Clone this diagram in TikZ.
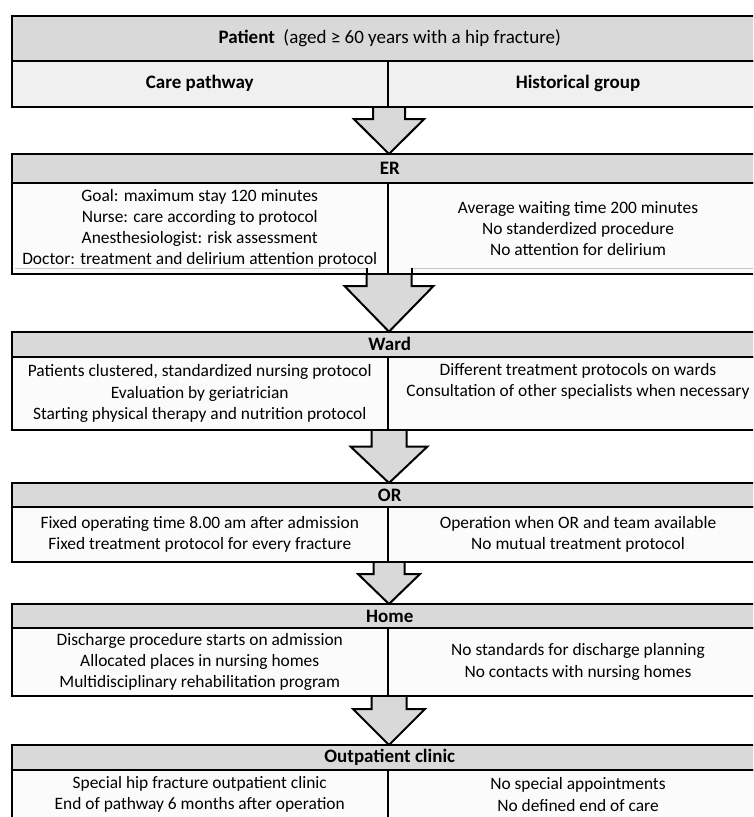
\documentclass[tikz,border=0pt]{standalone}
\usepackage{fontspec}
\setmainfont{Carlito}
\usetikzlibrary{calc}
\definecolor{hdrgray}{HTML}{D9D9D9}
\definecolor{subgray}{HTML}{F0F0F0}
\definecolor{cellwhite}{HTML}{FBFBFB}
\pgfdeclarelayer{back}
\pgfsetlayers{back,main}
% #1 from node, #2 to node, #3 shaft length, #4 head half width, #5 shaft half width
\newcommand\blockarr[5]{%
  \draw[blockarrow] ($(#1.south -| mid)+(-#5,0)$) -- ++(0,#3) -- ($(#1.south -| mid)+(-#4,#3)$)
    -- (#2.north -| mid) -- ($(#1.south -| mid)+(#4,#3)$) -- ($(#1.south -| mid)+(#5,#3)$)
    -- ($(#1.south -| mid)+(#5,0)$);}
\begin{document}
\begin{tikzpicture}[x=1pt,y=-1pt,
  cellbase/.style={draw=black, line width=2pt, inner sep=0pt, outer sep=0pt, anchor=north west, align=center, font=\fontsize{17.4}{21.2}\selectfont},
  hdrbox/.style={cellbase, fill=hdrgray, minimum width=756.5pt, font=\fontsize{19}{22}\selectfont},
  subbox/.style={cellbase, fill=subgray, font=\fontsize{19}{22}\selectfont},
  leftcell/.style={cellbase, fill=cellwhite, minimum width=376.5pt},
  rightcell/.style={cellbase, fill=cellwhite, minimum width=380pt},
  blockarrow/.style={draw=black, line width=2pt, fill=hdrgray, line join=miter},
  faint/.style={draw=gray!45, line width=0.8pt}
]
\useasboundingbox (0,0) rectangle (753,817);
\clip (0,0) rectangle (753,817);
\coordinate (mid) at (389,0);

% ---------- boxes (named) ----------
\node[hdrbox, minimum height=45pt] (pat) at (11.5,15.7) {\textbf{Patient}\ \ (aged ≥ 60 years with a hip fracture)};
\node[subbox, minimum width=376.5pt, minimum height=46pt] (cp) at (11.5,60.7) {\textbf{Care pathway}};
\node[subbox, minimum width=380pt, minimum height=46pt] (hg) at (388,60.7) {\textbf{Historical group}};

\node[hdrbox, minimum height=28.7pt] (er) at (11.5,154) {\textbf{ER}};
\node[leftcell, minimum height=91.3pt] (erL) at (11.5,182.7) {Goal: maximum stay 120 minutes\\Nurse: care according to protocol\\Anesthesiologist: risk assessment\\Doctor: treatment and delirium attention protocol};
\node[rightcell, minimum height=91.3pt] (erR) at (388,182.7) {Average waiting time 200 minutes\\No standerdized procedure\\No attention for delirium};

\node[hdrbox, minimum height=25.3pt] (wa) at (11.5,331.7) {\textbf{Ward}};
\node[leftcell, minimum height=73pt] (waL) at (11.5,357) {Patients clustered, standardized nursing protocol\\Evaluation by geriatrician\\Starting physical therapy and nutrition protocol};
\node[rightcell, minimum height=73pt] (waR) at (388,357) {Different treatment protocols on wards\\Consultation of other specialists when necessary\\\strut};

\node[hdrbox, minimum height=24pt] (or) at (11.5,483) {\textbf{OR}};
\node[leftcell, minimum height=55pt] (orL) at (11.5,507) {Fixed operating time 8.00 am after admission\\Fixed treatment protocol for every fracture};
\node[rightcell, minimum height=55pt] (orR) at (388,507) {Operation when OR and team available\\No mutual treatment protocol};

\node[hdrbox, minimum height=24pt] (ho) at (11.5,604) {\textbf{Home}};
\node[leftcell, minimum height=68pt] (hoL) at (11.5,628) {Discharge procedure starts on admission\\Allocated places in nursing homes\\Multidisciplinary rehabilitation program};
\node[rightcell, minimum height=68pt] (hoR) at (388,628) {No standards for discharge planning\\No contacts with nursing homes};

\node[hdrbox, minimum height=25pt] (op) at (11.5,745) {\textbf{Outpatient clinic}};
\node[leftcell, minimum height=49pt] (opL) at (11.5,770) {Special hip fracture outpatient clinic\\End of pathway 6 months after operation};
\node[rightcell, minimum height=49pt] (opR) at (388,770) {No special appointments\\No defined end of care};

% faint lines and shaft stub inside the ER cells
\draw[faint] ($(erL.south west)+(3,-6)$) -- ($(erL.south -| mid)+(-22.5,-6)$);
\draw[faint] ($(erL.south -| mid)+(22.5,-6)$) -- ($(erR.south east)+(0,-6)$);
\draw[line width=2pt] ($(erL.south -| mid)+(-22.5,-6)$) -- ($(erL.south -| mid)+(-22.5,0)$);
\draw[line width=2pt] ($(erL.south -| mid)+(22.5,-6)$) -- ($(erL.south -| mid)+(22.5,0)$);

% ---------- block arrows (behind the boxes) ----------
\begin{pgfonlayer}{back}
\fill[white] (0,0) rectangle (753,817);
\blockarr{hg}{er}{12.5}{35}{16}
\blockarr{erR}{wa}{12}{44.5}{22.5}
\blockarr{waR}{or}{16.5}{38.5}{17.5}
\blockarr{orR}{ho}{12}{31}{15.5}
\blockarr{hoR}{op}{13}{36}{17.5}
\end{pgfonlayer}
\end{tikzpicture}
\end{document}
